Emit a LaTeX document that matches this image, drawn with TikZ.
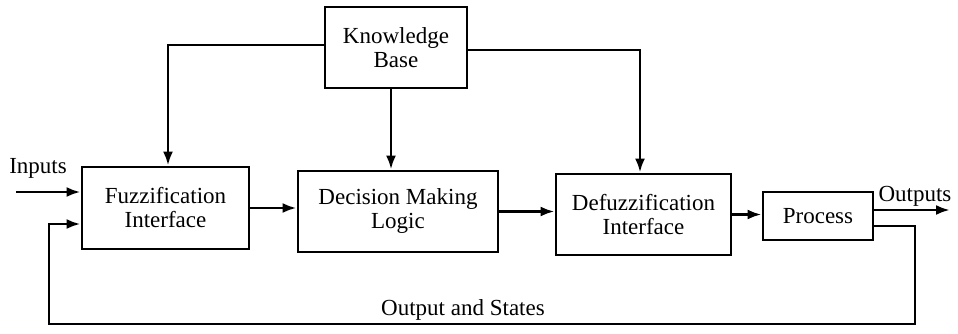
\documentclass[tikz,border=0pt]{standalone}
\usepackage{fontspec}
\setmainfont{Liberation Serif}
\usetikzlibrary{arrows.meta,calc}
\begin{document}
\begin{tikzpicture}[x=1pt,y=-1pt,
  blk/.style={draw,line width=2.8pt,minimum width=#1,inner sep=0pt,align=center,font=\fontsize{23}{24}\selectfont},
  lbl/.style={inner sep=0pt,font=\fontsize{23}{24}\selectfont},
  arr/.style={line width=2.8pt,-{Latex[length=14pt,width=10pt]}}]
\useasboundingbox (0,0) rectangle (958,334);
\node[blk=142pt,minimum height=81pt] (kb) at (396,47.5) {Knowledge\\Base};
\node[blk=167pt,minimum height=82pt] (fuzz) at (165.5,208) {Fuzzification\\Interface};
\node[blk=200pt,minimum height=81pt] (dml) at (398,211.5) {Decision Making\\Logic};
\node[blk=175pt,minimum height=81pt] (defuzz) at (643.5,214.5) {Defuzzification\\Interface};
\node[blk=110pt,minimum height=48pt] (proc) at (818,216) {Process};
\coordinate (inp) at (16,192);
\coordinate (pout) at ([yshift=6pt]proc.east);
\coordinate (out) at (950,210);
\coordinate (fbr) at (915,324);
\coordinate (fbl) at (49,324);
\node[lbl] (inlbl) at (38,168) {Inputs};
\node[lbl] (outlbl) at (915,196) {Outputs};
\node[lbl] (oslbl) at (463,310) {Output and States};
% knowledge base connections
\draw[arr] ([yshift=2.5pt]kb.west) -| ([xshift=2.5pt]fuzz.north);
\draw[arr] ([yshift=-2.5pt]kb.east) -| ([xshift=-3.5pt]defuzz.north);
\draw[arr] ([xshift=-5pt]kb.south) -- ([xshift=-5pt]kb.south |- dml.north);
% main chain
\draw[arr] (fuzz.east) -- (fuzz.east -| dml.west);
\draw[arr] (dml.east) -- (dml.east -| defuzz.west);
\draw[arr] (defuzz.east) -- (defuzz.east -| proc.west);
\draw[arr] (pout) -- (pout -| out);
% inputs
\draw[arr] (inp) -- (inp -| fuzz.west);
% feedback
\draw[arr] ([yshift=-10pt]proc.east) -| (fbr) -- (fbl) |- ([yshift=-16pt]fuzz.west);
\end{tikzpicture}
\end{document}
